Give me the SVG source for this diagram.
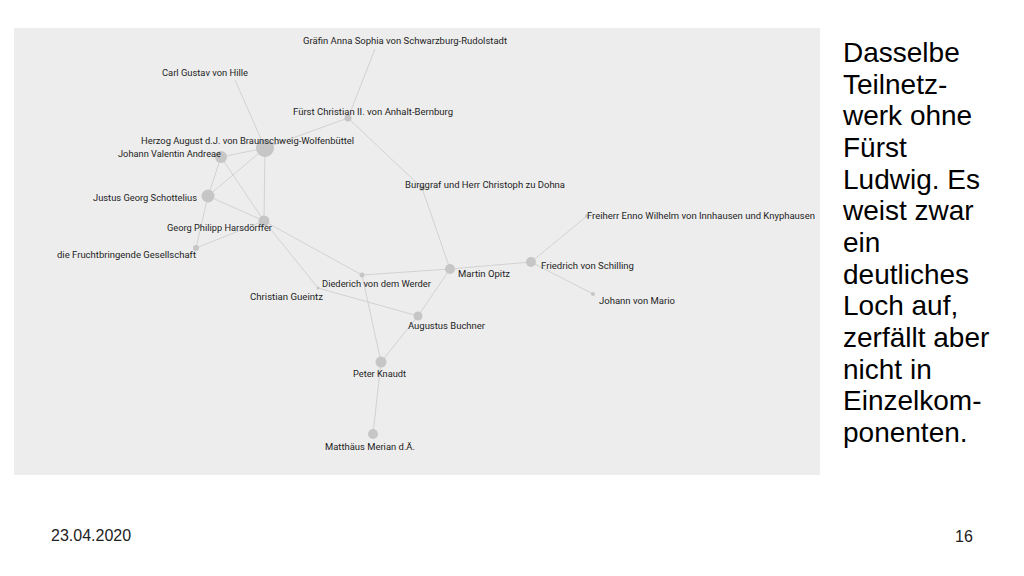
<svg xmlns="http://www.w3.org/2000/svg" width="1024" height="576" viewBox="0 0 1024 576">
<style>
.lbl{font-family:Roboto,"Open Sans","Liberation Sans",sans-serif;font-size:9.5px;fill:#1e1e1e;}
.nd{fill:#c6c6c6;}
.ed line{stroke:#d2d2d2;stroke-width:1;}
.body{font-family:"Liberation Sans",Arial,sans-serif;font-size:28px;fill:#000;}
.foot{font-family:"Liberation Sans",Arial,sans-serif;font-size:16px;fill:#222;}
</style>
<rect x="0" y="0" width="1024" height="576" fill="#ffffff"/>
<rect x="14" y="28" width="806" height="447" fill="#ededed"/>
<g id="connectors" class="ed">
<line x1="375" y1="49" x2="348" y2="118"/>
<line x1="235" y1="80" x2="265" y2="148"/>
<line x1="348" y1="118" x2="265" y2="148"/>
<line x1="348" y1="118" x2="422" y2="188"/>
<line x1="265" y1="148" x2="221" y2="157"/>
<line x1="265" y1="148" x2="208" y2="196"/>
<line x1="265" y1="148" x2="264" y2="221"/>
<line x1="221" y1="157" x2="208" y2="196"/>
<line x1="221" y1="157" x2="264" y2="221"/>
<line x1="208" y1="196" x2="264" y2="221"/>
<line x1="208" y1="196" x2="196" y2="248"/>
<line x1="196" y1="248" x2="264" y2="221"/>
<line x1="264" y1="221" x2="362" y2="275"/>
<line x1="264" y1="221" x2="318" y2="288"/>
<line x1="422" y1="188" x2="450" y2="269"/>
<line x1="362" y1="275" x2="450" y2="269"/>
<line x1="362" y1="275" x2="381" y2="362"/>
<line x1="318" y1="288" x2="418" y2="316"/>
<line x1="450" y1="269" x2="418" y2="316"/>
<line x1="418" y1="316" x2="381" y2="362"/>
<line x1="381" y1="362" x2="373" y2="434"/>
<line x1="450" y1="269" x2="531" y2="262"/>
<line x1="531" y1="262" x2="587" y2="216"/>
<line x1="531" y1="262" x2="593" y2="294"/>
</g>
<g id="n-graefin"><text class="lbl" x="303" y="44" textLength="204" lengthAdjust="spacingAndGlyphs">Gräfin Anna Sophia von Schwarzburg-Rudolstadt</text></g>
<g id="n-hille"><text class="lbl" x="162" y="75.5" textLength="86" lengthAdjust="spacingAndGlyphs">Carl Gustav von Hille</text></g>
<g id="n-anhalt"><circle class="nd" cx="348" cy="118" r="3.5"/><text class="lbl" x="293" y="114.5" textLength="160" lengthAdjust="spacingAndGlyphs">Fürst Christian II. von Anhalt-Bernburg</text></g>
<g id="n-herzog"><circle class="nd" cx="265" cy="148" r="9"/><text class="lbl" x="141" y="144" textLength="213" lengthAdjust="spacingAndGlyphs">Herzog August d.J. von Braunschweig-Wolfenbüttel</text></g>
<g id="n-andreae"><circle class="nd" cx="221" cy="157" r="6"/><text class="lbl" x="118" y="156.5" textLength="103" lengthAdjust="spacingAndGlyphs">Johann Valentin Andreae</text></g>
<g id="n-schottelius"><circle class="nd" cx="208" cy="196" r="6.5"/><text class="lbl" x="93" y="200.5" textLength="104" lengthAdjust="spacingAndGlyphs">Justus Georg Schottelius</text></g>
<g id="n-harsdoerffer"><circle class="nd" cx="264" cy="221" r="5.5"/><text class="lbl" x="167" y="230.5" textLength="105" lengthAdjust="spacingAndGlyphs">Georg Philipp Harsdörffer</text></g>
<g id="n-fg"><circle class="nd" cx="196" cy="248" r="3"/><text class="lbl" x="57" y="257.5" textLength="139" lengthAdjust="spacingAndGlyphs">die Fruchtbringende Gesellschaft</text></g>
<g id="n-dohna"><circle class="nd" cx="422" cy="188" r="3"/><text class="lbl" x="405" y="187.5" textLength="160" lengthAdjust="spacingAndGlyphs">Burggraf und Herr Christoph zu Dohna</text></g>
<g id="n-opitz"><circle class="nd" cx="450" cy="269" r="5"/><text class="lbl" x="458" y="276.5" textLength="52" lengthAdjust="spacingAndGlyphs">Martin Opitz</text></g>
<g id="n-werder"><circle class="nd" cx="362" cy="275" r="2.5"/><text class="lbl" x="322" y="286.5" textLength="109" lengthAdjust="spacingAndGlyphs">Diederich von dem Werder</text></g>
<g id="n-gueintz"><circle class="nd" cx="318" cy="288" r="1.5"/><text class="lbl" x="250" y="299.5" textLength="73" lengthAdjust="spacingAndGlyphs">Christian Gueintz</text></g>
<g id="n-buchner"><circle class="nd" cx="418" cy="316" r="4.5"/><text class="lbl" x="408" y="328.5" textLength="77" lengthAdjust="spacingAndGlyphs">Augustus Buchner</text></g>
<g id="n-knaudt"><circle class="nd" cx="381" cy="362" r="5.5"/><text class="lbl" x="353" y="376.5" textLength="53" lengthAdjust="spacingAndGlyphs">Peter Knaudt</text></g>
<g id="n-merian"><circle class="nd" cx="373" cy="434" r="5"/><text class="lbl" x="325" y="449.5" textLength="90" lengthAdjust="spacingAndGlyphs">Matthäus Merian d.Ä.</text></g>
<g id="n-schilling"><circle class="nd" cx="531" cy="262" r="5"/><text class="lbl" x="541" y="268.5" textLength="93" lengthAdjust="spacingAndGlyphs">Friedrich von Schilling</text></g>
<g id="n-knyphausen"><circle class="nd" cx="587" cy="216" r="2"/><text class="lbl" x="587" y="218.5" textLength="228" lengthAdjust="spacingAndGlyphs">Freiherr Enno Wilhelm von Innhausen und Knyphausen</text></g>
<g id="n-mario"><circle class="nd" cx="593" cy="294" r="2"/><text class="lbl" x="599" y="303.5" textLength="76" lengthAdjust="spacingAndGlyphs">Johann von Mario</text></g>
<g id="caption">
<text class="body" x="843" y="62">Dasselbe</text>
<text class="body" x="843" y="93.7">Teilnetz-</text>
<text class="body" x="843" y="125.3">werk ohne</text>
<text class="body" x="843" y="157">Fürst</text>
<text class="body" x="843" y="188.7">Ludwig. Es</text>
<text class="body" x="843" y="220.3">weist zwar</text>
<text class="body" x="843" y="252">ein</text>
<text class="body" x="843" y="283.7">deutliches</text>
<text class="body" x="843" y="315.3">Loch auf,</text>
<text class="body" x="843" y="347">zerfällt aber</text>
<text class="body" x="843" y="378.7">nicht in</text>
<text class="body" x="843" y="410.3">Einzelkom-</text>
<text class="body" x="843" y="442">ponenten.</text>
</g>
<g id="footer">
<text class="foot" x="51" y="541">23.04.2020</text>
<text class="foot" x="955" y="542">16</text>
</g>
</svg>
